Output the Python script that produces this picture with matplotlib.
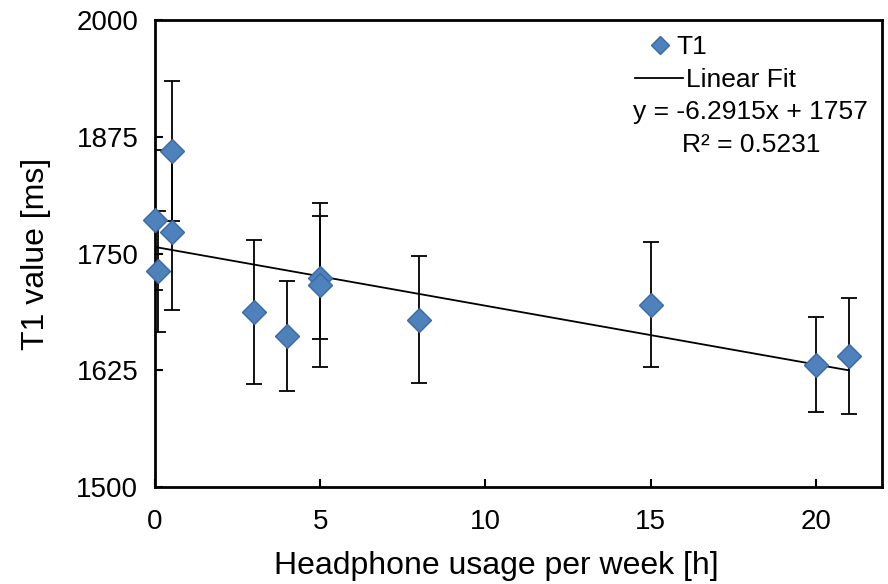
import matplotlib
matplotlib.use("Agg")
import matplotlib.pyplot as plt
from matplotlib.lines import Line2D
import numpy as np

plt.rcParams['font.family'] = ['Liberation Sans', 'DejaVu Sans']

# Data
usage_h = [0, 0.1, 0.5, 0.5, 3, 4, 5, 5, 8, 15, 20, 21]
t1_ms = [1786, 1731, 1860, 1773, 1687, 1662, 1724, 1716, 1679, 1695, 1631, 1640]
t1_err = [75, 65, 75, 83, 77, 59, 66, 88, 68, 67, 51, 62]
fit_slope = -6.2915
fit_intercept = 1757
fit_r2 = 0.5231
x_ticks = [0, 5, 10, 15, 20]
y_ticks = [1500, 1625, 1750, 1875, 2000]

W, H = 888, 584
L, R, T, B = 155, 882, 20, 487
fig = plt.figure(figsize=(W/100, H/100), dpi=100)
ax = fig.add_axes([L/W, 1 - B/H, (R - L)/W, (B - T)/H])

def axfrac(px, py):
    return ((px - L)/(R - L), 1 - (py - T)/(B - T))

marker_color = '#4F81BD'
edge_color = '#3A6AA6'

ax.errorbar(usage_h, t1_ms, yerr=t1_err, fmt='none', ecolor='black',
            elinewidth=1.3, capsize=5.5, capthick=1.3, zorder=2, clip_on=True)
ax.plot(usage_h, t1_ms, linestyle='none', marker='D', markersize=12,
        markerfacecolor=marker_color, markeredgecolor=edge_color,
        markeredgewidth=1.0, zorder=4, clip_on=False)

xf = np.array([min(usage_h), max(usage_h)])
ax.plot(xf, fit_slope * xf + fit_intercept, color='black', linewidth=1.3, zorder=3)

ax.set_xlim(0, 22)
ax.set_ylim(1500, 2000)
ax.set_xticks(x_ticks)
ax.set_yticks(y_ticks)
ax.set_xticklabels([str(v) for v in x_ticks])
ax.set_yticklabels([str(v) for v in y_ticks])
ax.tick_params(axis='both', direction='in', length=6, width=1.5, labelsize=20,
               colors='black')
ax.tick_params(axis='x', pad=16)
ax.tick_params(axis='y', pad=12)

for s in ax.spines.values():
    s.set_linewidth(2.0)
    s.set_color('black')

ax.set_xlabel('Headphone usage per week [h]', fontsize=23)
ax.xaxis.set_label_coords((496 - L)/(R - L), -(566 - B)/(B - T), transform=ax.transAxes)
ax.xaxis.label.set_va('center')
ax.set_ylabel('T1 value [ms]', fontsize=23, labelpad=18)

h_t1 = Line2D([], [], linestyle='none', marker='D', markersize=9,
              markerfacecolor=marker_color, markeredgecolor=edge_color)
h_fit = Line2D([], [], color='black', linewidth=1.3)

leg1 = ax.legend([h_t1], ['T1'], loc='center left', bbox_to_anchor=axfrac(647, 47),
                 frameon=False, fontsize=19, handlelength=1.0, handletextpad=0.1,
                 borderpad=0, borderaxespad=0)
ax.add_artist(leg1)
leg2 = ax.legend([h_fit], ['Linear Fit'], loc='center left', bbox_to_anchor=axfrac(635, 80),
                 frameon=False, fontsize=19, handlelength=1.82, handletextpad=0.1,
                 borderpad=0, borderaxespad=0)

ax.text(*axfrac(750, 112), 'y = -6.2915x + 1757',
        transform=ax.transAxes, fontsize=19, ha='center', va='center')
ax.text(*axfrac(751, 145), f'R² = {fit_r2:.4f}',
        transform=ax.transAxes, fontsize=19, ha='center', va='center')

fig.savefig('out.png', dpi=100)
